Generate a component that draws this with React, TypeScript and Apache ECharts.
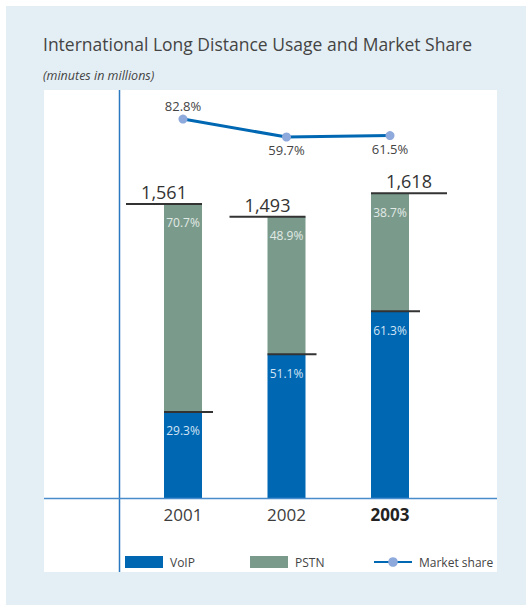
import React, { useEffect, useRef } from "react";
import * as echarts from "echarts";

const categories = ["2001", "2002", "2003"];
const voipValues = [457, 763, 992];
const pstnValues = [1104, 730, 626];
const totals = [1561, 1493, 1618];
const voipShare = [29.3, 51.1, 61.3];
const pstnShare = [70.7, 48.9, 38.7];
const marketShare = [82.8, 59.7, 61.5];
const totalLineSide = [-1, -1, 1];

const FONT = "'Open Sans', 'Noto Sans', sans-serif";
const TEXT = "#3d3d3d";
const BLUE = "#0068b3";
const GREEN = "#7a9b8c";
const BAR_W = 38;

export default function App() {
  const ref = useRef<HTMLDivElement>(null);
  useEffect(() => {
    document.body.style.margin = "0";
    const chart = echarts.init(ref.current!, null, { renderer: "svg" });
    const gridLeft = 131.25;
    const gridWidth = 310.5;
    const legendBase = {
      itemWidth: 38, itemHeight: 12, padding: 0, top: 556, itemGap: 0,
      textStyle: { fontSize: 12, color: "#444", fontFamily: FONT, padding: [0, 0, 0, 2] },
    };
    const option: any = {
      animation: false,
      textStyle: { fontFamily: FONT },
      graphic: [
        { type: "rect", z: -10, shape: { x: 6, y: 6, width: 520, height: 599 }, style: { fill: "#e4eff5" } },
        { type: "rect", z: -9, shape: { x: 44, y: 90, width: 453, height: 482 }, style: { fill: "#ffffff" } },
        { type: "line", z: 5, shape: { x1: 119.5, y1: 90, x2: 119.5, y2: 572 }, style: { stroke: "#2a78c0", lineWidth: 1.5 } },
        { type: "line", z: 5, shape: { x1: 44, y1: 498.5, x2: 497, y2: 498.5 }, style: { stroke: "#4a8ccb", lineWidth: 1.5 } },
        {
          type: "text", left: 43, top: 35,
          style: { text: "International Long Distance Usage and Market Share", fontSize: 17.5, fill: "#444", fontFamily: FONT },
        },
        {
          type: "text", left: 43, top: 69,
          style: { text: "(minutes in millions)", fontSize: 12.5, fontStyle: "italic", fill: "#444", fontFamily: FONT },
        },
      ],
      legend: [
        { ...legendBase, data: [{ name: "VoIP", icon: "rect" }], left: 125 },
        { ...legendBase, data: [{ name: "PSTN", icon: "rect" }], left: 250 },
        { ...legendBase, data: ["Market share"], left: 373 },
      ],
      grid: [
        { left: gridLeft, width: gridWidth, top: 90, height: 408 },
        { left: gridLeft, width: gridWidth, top: 110, height: 40 },
      ],
      xAxis: [
        {
          type: "category", gridIndex: 0,
          data: categories.map((c, i) => ({
            value: c,
            textStyle: i === categories.length - 1 ? { fontWeight: "bold", color: "#222" } : {},
          })),
          axisLine: { show: false }, axisTick: { show: false },
          axisLabel: { fontSize: 17, color: TEXT, margin: 8, fontFamily: FONT },
        },
        {
          type: "category", gridIndex: 1, data: categories, show: false,
        },
      ],
      yAxis: [
        { type: "value", gridIndex: 0, min: 0, max: 2166, show: false, splitLine: { show: false } },
        { type: "value", gridIndex: 1, min: 43, max: 94.4, show: false, splitLine: { show: false } },
      ],
      series: [
        {
          name: "VoIP", type: "bar", stack: "total", barWidth: BAR_W,
          data: voipValues, itemStyle: { color: BLUE },
          label: {
            show: true, position: "insideTop", distance: 13, fontSize: 12, color: "#d3e3f4",
            fontFamily: FONT, formatter: (p: any) => voipShare[p.dataIndex].toFixed(1) + "%",
          },
        },
        {
          name: "PSTN", type: "bar", stack: "total", barWidth: BAR_W,
          data: pstnValues, itemStyle: { color: GREEN },
          label: {
            show: true, position: "insideTop", distance: 13, fontSize: 12, color: "#e2eae6",
            fontFamily: FONT, formatter: (p: any) => pstnShare[p.dataIndex].toFixed(1) + "%",
          },
        },
        {
          name: "totalLines", type: "custom", xAxisIndex: 0, yAxisIndex: 0, z: 10,
          data: totals.map((t, i) => [i, t, totalLineSide[i]]),
          renderItem: (params: any, api: any) => {
            const pt = api.coord([api.value(0), api.value(1)]);
            const side = api.value(2);
            const half = BAR_W / 2;
            const x1 = side < 0 ? pt[0] - half - BAR_W : pt[0] - half;
            const x2 = side < 0 ? pt[0] + half : pt[0] + half + BAR_W;
            return {
              type: "group",
              children: [
                { type: "line", shape: { x1, y1: pt[1], x2, y2: pt[1] }, style: { stroke: "#333", lineWidth: 2 } },
                {
                  type: "text", x: (x1 + x2) / 2, y: pt[1] - 3,
                  style: {
                    text: totals[params.dataIndex].toLocaleString("en-US"),
                    fontSize: 18, fill: "#333", fontFamily: FONT, align: "center", verticalAlign: "bottom",
                  },
                },
              ],
            };
          },
        },
        {
          name: "voipLines", type: "custom", xAxisIndex: 0, yAxisIndex: 0, z: 10,
          data: voipValues.map((v, i) => [i, v]),
          renderItem: (params: any, api: any) => {
            const pt = api.coord([api.value(0), api.value(1)]);
            const half = BAR_W / 2;
            return {
              type: "line",
              shape: { x1: pt[0] - half, y1: pt[1], x2: pt[0] + half + 11, y2: pt[1] },
              style: { stroke: "#333", lineWidth: 2 },
            };
          },
        },
        {
          name: "Market share", type: "line", xAxisIndex: 1, yAxisIndex: 1, z: 12,
          symbol: "circle", symbolSize: 9,
          lineStyle: { color: BLUE, width: 3 },
          itemStyle: { color: "#8ea9db" },
          label: {
            show: true, fontSize: 13, color: "#444", fontFamily: FONT,
            formatter: (p: any) => p.value.toFixed(1) + "%",
          },
          data: marketShare.map((v, i) => ({
            value: v,
            label: { position: i === 0 ? "top" : "bottom", distance: 2 },
          })),
        },
      ],
    };
    chart.setOption(option);
    return () => chart.dispose();
  }, []);
  return <div ref={ref} style={{ width: 528, height: 605, position: "absolute", left: 0, top: 0 }} />;
}
